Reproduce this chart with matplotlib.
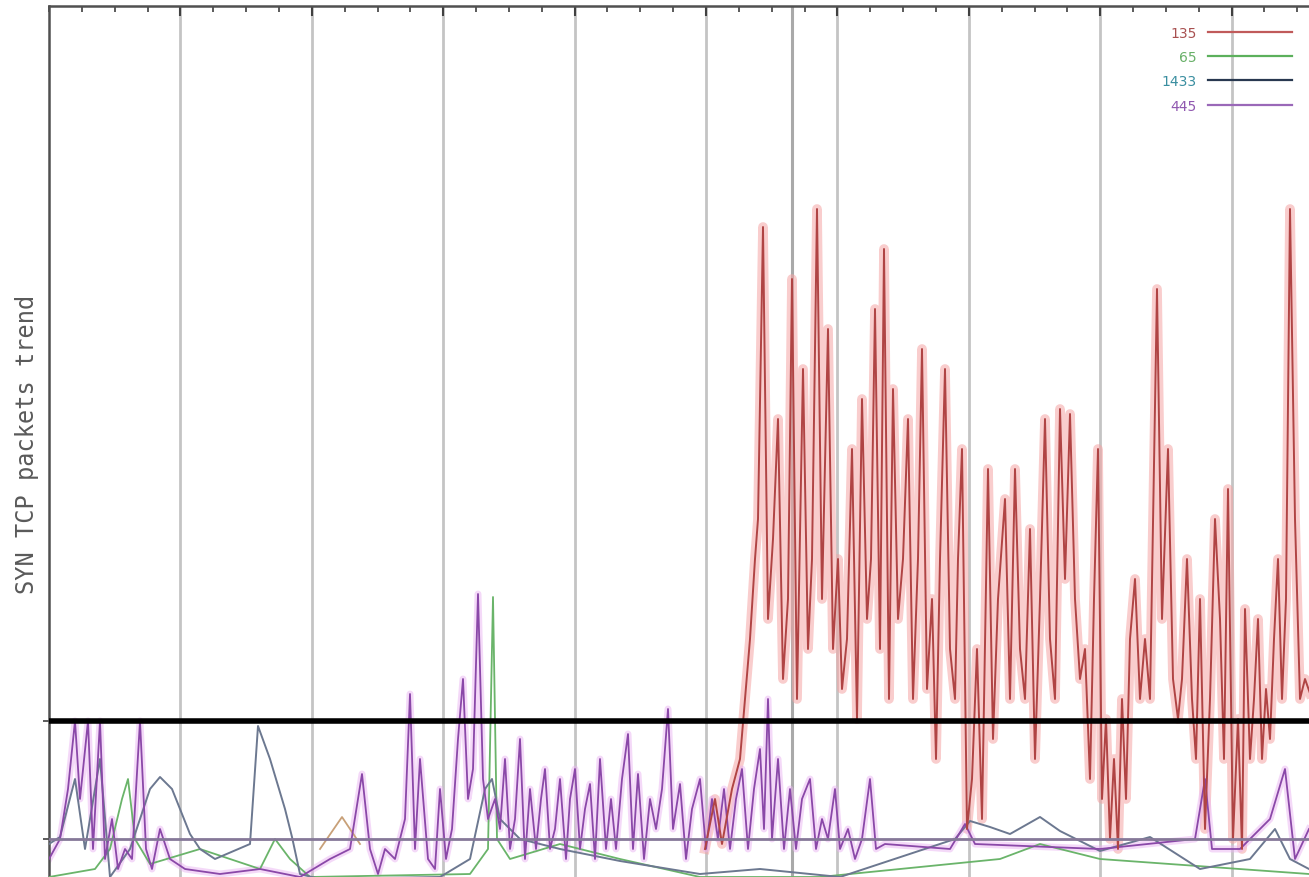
import numpy as np
import matplotlib
matplotlib.use("Agg")
import matplotlib.pyplot as plt
from matplotlib.lines import Line2D

# ---------------- data (time units, packets) ----------------
red_t = [656,666,673,683,691,696,701,706,709,714,719,724,729,734,739,743,748,754,759,763,
         768,773,779,784,789,793,798,803,808,813,818,822,826,831,835,840,844,849,854,859,
         864,869,873,878,883,887,891,896,901,906,909,913,918,923,928,933,939,944,949,956,
         961,966,971,976,981,986,991,996,1001,1006,1011,1016,1021,1026,1031,1036,1041,1045,1049,1053,
         1057,1061,1065,1069,1073,1077,1081,1086,1091,1096,1101,1108,1113,1119,1124,1129,1133,1138,1143,1147,
         1151,1156,1161,1166,1171,1175,1179,1184,1189,1193,1196,1201,1205,1209,1213,1217,1221,1225,1229,1233,
         1237,1241,1246,1251,1256,1263]
red_y = [108,158,113,168,198,258,318,398,438,730,338,418,538,278,358,678,258,588,308,398,
         748,358,628,308,398,268,318,508,238,558,338,398,648,308,708,258,568,338,398,538,
         258,398,608,268,358,198,398,588,308,258,398,508,128,178,308,138,488,218,358,458,
         258,488,308,258,428,198,358,538,318,258,548,378,543,358,278,308,178,358,508,158,
         238,118,198,108,258,158,318,378,258,318,258,668,338,508,278,238,278,398,258,198,
         358,128,258,438,338,198,468,118,238,108,348,198,258,338,198,268,218,318,398,258,
         358,748,438,258,278,258]

purple_t = [0,11,19,26,31,39,44,51,56,63,69,76,83,91,97,103,111,121,136,171,211,251,281,301,313,321,
            329,336,346,356,361,366,371,379,386,391,397,403,409,414,419,424,429,434,439,446,451,456,461,466,
            471,476,481,487,492,496,501,506,511,517,521,526,531,536,541,546,551,557,562,567,573,579,584,589,
            595,601,607,613,619,624,631,637,643,651,657,663,669,675,681,687,693,699,705,711,715,719,723,729,
            735,741,747,753,761,767,773,779,786,791,799,806,813,821,827,836,901,916,926,1051,1146,1156,1163,
            1191,1221,1236,1246,1260]
purple_y = [98,118,168,236,158,236,108,236,98,138,88,108,98,236,108,88,128,98,88,83,88,80,98,108,183,108,
            83,108,98,138,263,108,198,98,88,168,98,128,218,278,158,188,363,178,138,158,128,198,108,138,
            218,98,168,108,158,188,108,128,178,98,158,188,108,148,173,98,198,108,158,108,178,223,108,183,
            98,158,128,168,248,128,173,98,148,178,108,158,118,168,108,158,188,108,168,208,128,258,118,198,
            108,168,108,158,178,108,138,118,168,108,128,98,118,178,108,113,108,133,113,108,118,178,108,
            108,138,188,98,128]

navy_t = [0,11,26,36,51,61,81,101,111,123,141,151,166,201,209,221,236,243,251,271,391,421,436,443,451,
          471,511,571,651,711,791,906,921,941,961,991,1011,1051,1101,1151,1201,1226,1241,1260]
navy_y = [113,120,178,108,198,80,108,168,180,168,123,108,98,113,231,198,148,120,83,78,80,98,168,178,138,
          118,108,96,83,88,80,118,136,130,123,140,126,106,120,88,98,128,98,88]

green_t = [0,46,61,73,79,86,101,151,211,226,241,261,421,439,444,448,461,511,571,651,771,851,951,991,1051,1260]
green_y = [80,88,108,158,178,118,93,108,88,118,98,80,83,108,360,118,98,113,98,80,80,88,98,113,98,83]

tan_t = [271,293,311]
tan_y = [108,140,113]

threshold = 236
baseline = 118
marker_t = 743
grid_t = [131.4, 262.8, 394.2, 525.6, 657.0, 788.4, 919.8, 1051.2, 1182.6]
series_labels = ["135", "65", "1433", "445"]

# ---------------- figure ----------------
W, H = 1309, 878
fig = plt.figure(figsize=(W / 100, H / 100), dpi=100)
fig.patch.set_facecolor("white")
ax = fig.add_axes([49 / W, 1 - 958 / H, 1314 / W, 951 / H])
ax.set_xlim(0, 1314)
ax.set_ylim(0, 951)

for g in grid_t:
    ax.axvline(g, color="#c4c4c4", lw=2.0, zorder=1)
ax.axvline(marker_t, color="#a9a9a9", lw=2.2, zorder=1)

# soft halos to mimic the blurred rendering
ax.plot(red_t, red_y, color="#f5a4a4", lw=7, alpha=0.55, zorder=2)
ax.plot(purple_t, purple_y, color="#eab4f2", lw=5, alpha=0.5, zorder=2)

ax.plot(green_t, green_y, color="#6ab46a", lw=1.3, zorder=3)
ax.plot(navy_t, navy_y, color="#6c7890", lw=1.4, zorder=3)
ax.plot(tan_t, tan_y, color="#c8a078", lw=1.3, zorder=3)
ax.plot(purple_t, purple_y, color="#8a48a8", lw=1.3, zorder=4)
ax.plot(red_t, red_y, color="#b04444", lw=1.4, zorder=5)

ax.axhline(baseline, color="#857898", lw=2.0, zorder=6)
ax.axhline(threshold, color="black", lw=4.0, zorder=7)

# axes styling
for side in ["left", "top"]:
    ax.spines[side].set_color("#505050")
    ax.spines[side].set_linewidth(1.8)
ax.set_xticks(grid_t)
ax.set_xticks(np.arange(0, 1314, 32.85), minor=True)
ax.tick_params(axis="x", which="both", top=True, bottom=False, direction="in",
               labelbottom=False, labeltop=False, color="#404040")
ax.tick_params(axis="x", which="major", length=7, width=1.5)
ax.tick_params(axis="x", which="minor", length=4, width=1.2)
ax.set_yticks([baseline, threshold])
ax.tick_params(axis="y", length=4, width=1.2, labelleft=False, color="#404040")

# legend
handles = [Line2D([], [], color="#c05a5a", lw=1.6),
           Line2D([], [], color="#5cb05c", lw=1.6),
           Line2D([], [], color="#283850", lw=1.6),
           Line2D([], [], color="#9a68b8", lw=1.6)]
ax.legend(handles, series_labels, loc="upper right",
          bbox_to_anchor=(1304 / W, 1 - 14 / H), bbox_transform=fig.transFigure,
          markerfirst=False, frameon=False, fontsize=10, handlelength=6.0,
          labelspacing=0.75, handletextpad=0.8,
          labelcolor=["#a85050", "#68b068", "#3a8ea0", "#9058b0"])

fig.text(27 / W, 1 - 444 / H, "SYN TCP packets trend", rotation=90,
         ha="center", va="center", family="DejaVu Sans Mono", fontsize=17,
         color="#5a5a5a")

fig.savefig("out.png", dpi=100)
